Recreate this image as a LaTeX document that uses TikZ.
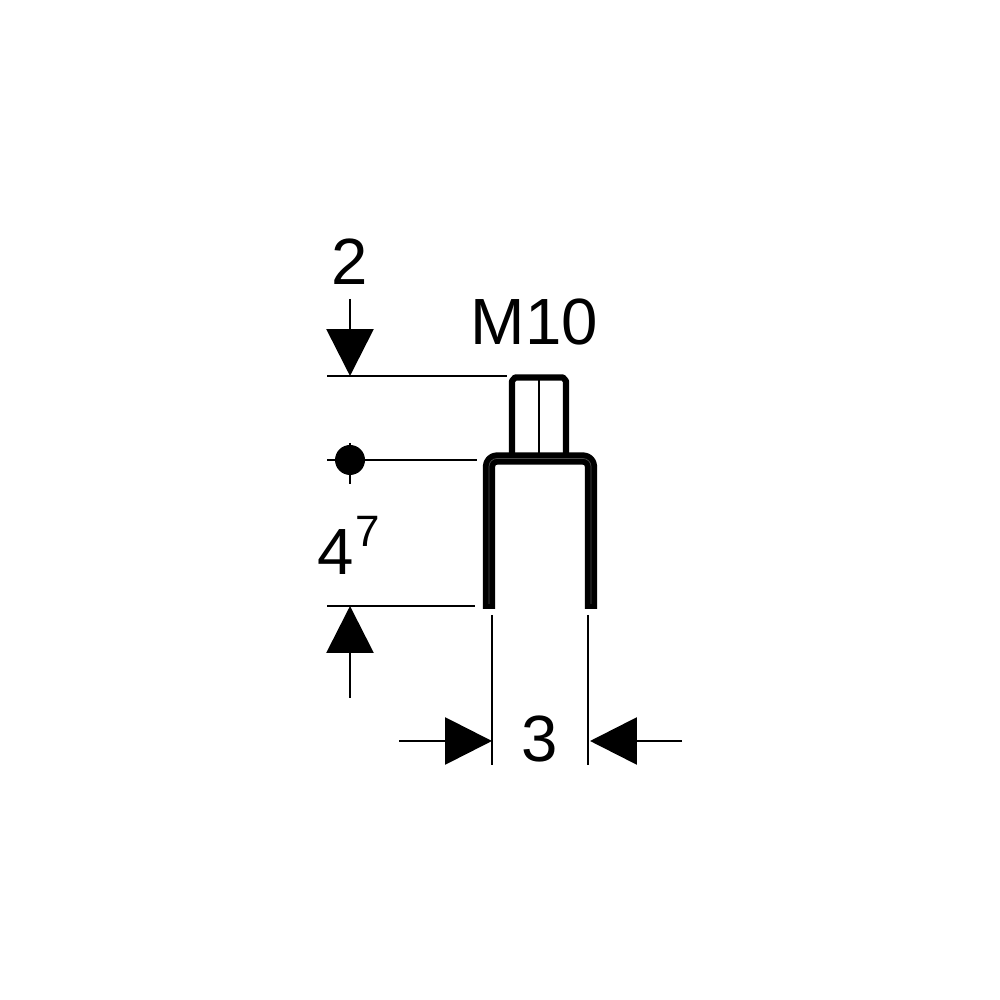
\documentclass[tikz,border=0pt]{standalone}
\usepackage{fontspec}
\setmainfont{Liberation Sans}
\usetikzlibrary{
  arrows.meta
}

\begin{document}
\begin{tikzpicture}[
  font=\fontsize{18.6pt}{20pt}\selectfont,
  dimline/.style={draw=black, line width=0.8pt},
  dimarrow/.style={draw=black, line width=0.8pt, -{Triangle[length=1.34mm*3.5, width=1.34mm*3.5]}, shorten >=0pt},
  label/.style={inner sep=0pt, text=black},
  wall/.style={draw=black, line width=3.5pt, line join=round},
  wallcore/.style={draw=black!70, line width=0.2pt, line join=round},
  boltline/.style={draw=black, line width=1.75pt, line join=round}
]
\useasboundingbox (0,0) rectangle (10,10);

% Anchor points
\coordinate (topstart) at (3.50,7.01);
\coordinate (toptip) at (3.50,6.24);
\coordinate (topend) at (5.07,6.24);
\coordinate (topleft) at (3.27,6.24);
\coordinate (midleft) at (3.27,5.40);
\coordinate (midend) at (4.77,5.40);
\coordinate (dotup) at (3.50,5.57);
\coordinate (dotdown) at (3.50,5.16);
\coordinate (lowleft) at (3.27,3.94);
\coordinate (lowend) at (4.75,3.94);
\coordinate (lowstart) at (3.50,3.02);
\coordinate (lowtip) at (3.50,3.94);
\coordinate (leftup) at (4.92,3.85);
\coordinate (leftdown) at (4.92,2.35);
\coordinate (rightup) at (5.88,3.85);
\coordinate (rightdown) at (5.88,2.35);
\coordinate (leftstart) at (3.99,2.59);
\coordinate (lefttip) at (4.92,2.59);
\coordinate (rightstart) at (6.82,2.59);
\coordinate (righttip) at (5.90,2.59);

% Labels
\node[label] (two) at (3.50,7.38) {2};
\node[label] (thread) at (5.345,6.78) {M10};
\node[label] (four) at (3.36,4.48) {4};
\node[label, font=\fontsize{12.5pt}{14pt}\selectfont] (seven) at (3.675,4.69) {7};
\node[label] (three) at (5.40,2.61) {3};

% Datum dot
\node[circle, fill=black, inner sep=0pt, outer sep=0pt, minimum size=3mm] (dot) at (3.50,5.40) {};

% Part
\draw[boltline] (5.12,5.45) -- (5.12,6.19) -- (5.15,6.225) -- (5.63,6.225) -- (5.66,6.19) -- (5.66,5.45);
\draw[draw=black, line width=0.45pt] (5.39,6.20) -- (5.39,5.45);
\draw[wall] (4.89,3.91) -- (4.89,5.25) [rounded corners=0.8mm] -- (4.89,5.415) -- (5.91,5.415) -- (5.91,5.25) [sharp corners] -- (5.91,3.91);
\draw[wallcore] (4.89,3.96) -- (4.89,5.25) [rounded corners=0.8mm] -- (4.89,5.415) -- (5.91,5.415) -- (5.91,5.25) [sharp corners] -- (5.91,3.96);

% Dimension lines
\draw[dimarrow] (topstart) -- (toptip);
\draw[dimline] (topleft) -- (topend);
\draw[dimline] (midleft) -- (dot);
\draw[dimline] (dot) -- (midend);
\draw[dimline] (dotup) -- (dotdown);
\draw[dimline] (lowleft) -- (lowend);
\draw[dimarrow] (lowstart) -- (lowtip);
\draw[dimline] (leftup) -- (leftdown);
\draw[dimline] (rightup) -- (rightdown);
\draw[dimarrow] (leftstart) -- (lefttip);
\draw[dimarrow] (rightstart) -- (righttip);

\end{tikzpicture}
\end{document}
